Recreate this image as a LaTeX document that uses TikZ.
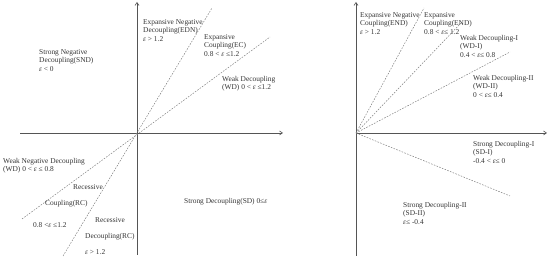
\documentclass[tikz,border=0pt]{standalone}
\usepackage{fontspec}
\setmainfont{Liberation Serif}
\usetikzlibrary{arrows.meta,positioning}
\definecolor{axis}{HTML}{555555}
\definecolor{bound}{HTML}{808080}
\definecolor{lbl}{HTML}{333333}
\newcommand{\eps}{\textit{ε}}
\tikzset{
  axisline/.style={axis,line width=0.6pt,-{Straight Barb[length=3pt,width=4pt]}},
  boundline/.style={bound,line width=0.5pt,dash pattern=on 1.6pt off 1.3pt},
  zone/.style={lbl,font=\fontsize{7.4}{8.6}\selectfont,align=left,anchor=north west,inner sep=0pt}
}
\begin{document}
\begin{tikzpicture}[x=1pt,y=1pt]
  \useasboundingbox (0,0) rectangle (550,261);

  % Left: origin and axes
  \coordinate (O1) at (137,128);
  \coordinate (xl) at (20,128);
  \coordinate (xr) at (283,128);
  \coordinate (yb) at (137,6);
  \coordinate (yt) at (137,259);
  \draw[axisline] (xl) -- (xr);
  \draw[axisline] (yb) -- (yt);

  % Left: boundaries
  \coordinate (a1) at (63,5);
  \coordinate (a2) at (212,253);
  \coordinate (b1) at (22,42);
  \coordinate (b2) at (270,224);
  \draw[boundline] (a1) -- (a2);
  \draw[boundline] (b1) -- (b2);

  % Left: labels
  \node[zone] (edn) at (143,242) {Expansive Negative\\Decoupling(EDN)\\\eps{} > 1.2};
  \node[zone] (ec) at (204,227) {Expansive\\Coupling(EC)\\0.8 < \eps{} ≤1.2};
  \node[zone] (snd) at (39,212) {Strong Negative\\Decoupling(SND)\\\eps{} < 0};
  \node[zone] (wd) at (222,185) {Weak Decoupling\\(WD) 0 < \eps{} ≤1.2};
  \node[zone] (wnd) at (3,103) {Weak Negative Decoupling\\(WD) 0 < \eps{} ≤ 0.8};
  \node[zone] (rc1) at (73,77) {Recessive};
  \node[zone] (rc2) at (45,61) {Coupling(RC)};
  \node[zone] (rc3) at (33,39) {0.8 <\eps{} ≤1.2};
  \node[zone] (rd1) at (95,44) {Recessive};
  \node[zone] (rd2) at (85,28) {Decoupling(RC)};
  \node[zone] (rd3) at (85,12) {\eps{} > 1.2};
  \node[zone] (sd) at (184,63) {Strong Decoupling(SD) 0≤\eps};

  % Right: origin and axes
  \coordinate (O2) at (356,128);
  \coordinate (xr2) at (547,128);
  \coordinate (yb2) at (356,5);
  \coordinate (yt2) at (356,259);
  \draw[axisline] (O2) -- (xr2);
  \draw[axisline] (yb2) -- (yt2);

  % Right: boundaries
  \coordinate (c1) at (424,253);
  \coordinate (c2) at (462,239);
  \coordinate (c3) at (510,209);
  \coordinate (c4) at (510,65);
  \foreach \c in {c1,c2,c3,c4}
    \draw[boundline] (O2) -- (\c);

  % Right: labels
  \node[zone] (enc) at (360,249) {Expansive Negative\\Coupling(END)\\\eps{} >\ 1.2};
  \node[zone] (ec2) at (424,249) {Expansive\\Coupling(END)\\0.8 < \eps≤ 1.2};
  \node[zone] (wd1) at (460,226) {Weak Decoupling-I\\(WD-I)\\0.4 < \eps≤ 0.8};
  \node[zone] (wd2) at (473,186) {Weak Decoupling-II\\(WD-II)\\0 < \eps≤ 0.4};
  \node[zone] (sd1) at (473,120) {Strong Decoupling-I\\(SD-I)\\-0.4 < \eps≤ 0};
  \node[zone] (sd2) at (403,59) {Strong Decoupling-II\\(SD-II)\\\eps≤ -0.4};
\end{tikzpicture}
\end{document}
